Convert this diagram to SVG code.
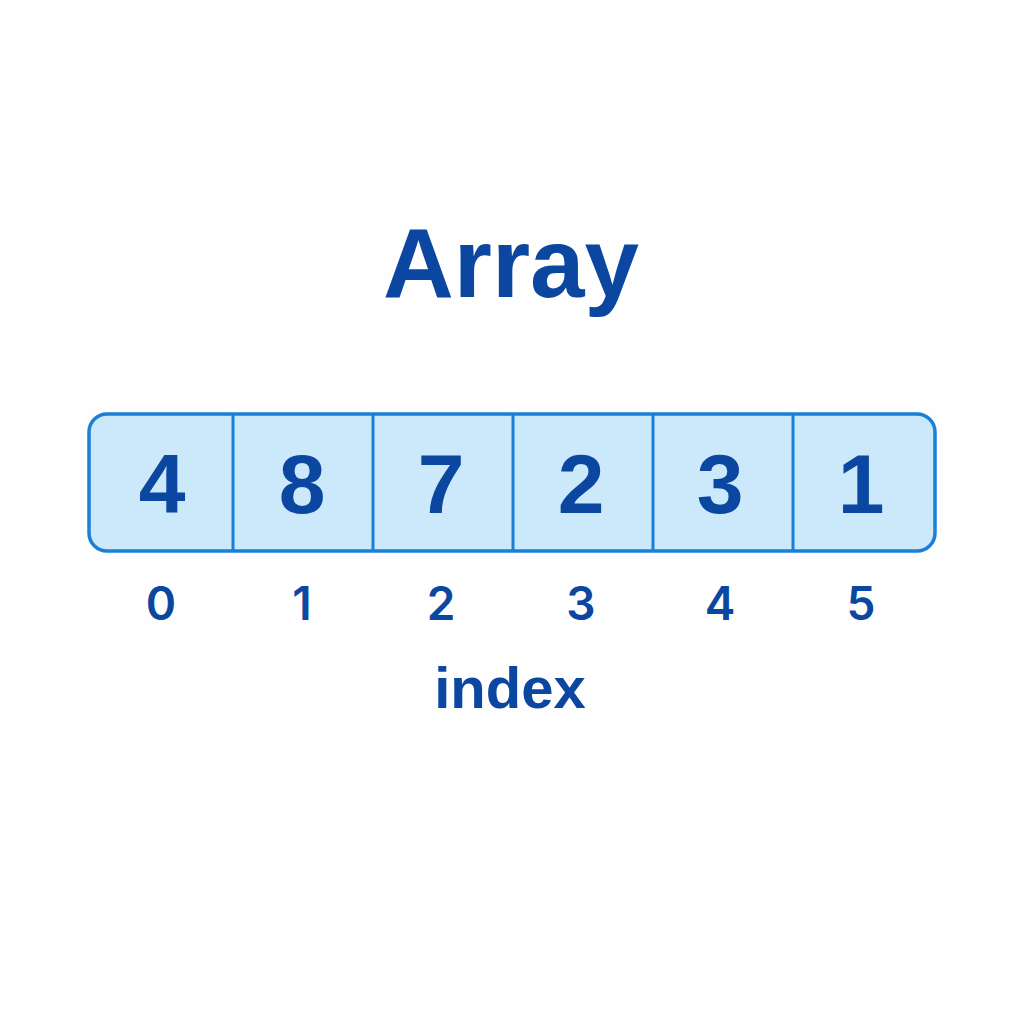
<svg xmlns="http://www.w3.org/2000/svg" width="1024" height="1024" viewBox="0 0 1024 1024">
<style>
.t{font-family:"Liberation Sans",Arial,sans-serif;fill:#0b47a1;text-anchor:middle}
.title{font-size:98px;font-weight:bold}
.val{font-size:84px;font-weight:bold}
.idx{font-size:46px;font-family:Inter,"Liberation Sans",sans-serif;font-weight:600}
.lab{font-size:58px;font-weight:bold}
.div{stroke:#1a7fd6;stroke-width:3}
</style>
<rect width="1024" height="1024" fill="#fefefe"/>
<text class="t title" x="511" y="297">Array</text>
<g id="array">
<rect x="89" y="414" width="846" height="137" rx="18" fill="#cce8fb" stroke="#1a7fd6" stroke-width="3.5"/>
</g>
<g id="dividers">
<line class="div" x1="233" y1="414" x2="233" y2="551"/>
<line class="div" x1="373" y1="414" x2="373" y2="551"/>
<line class="div" x1="513" y1="414" x2="513" y2="551"/>
<line class="div" x1="653" y1="414" x2="653" y2="551"/>
<line class="div" x1="793" y1="414" x2="793" y2="551"/>
</g>
<g id="cell0"><text class="t val" x="162" y="513">4</text><text class="t idx" x="161" y="620">0</text></g>
<g id="cell1"><text class="t val" x="302" y="513">8</text><text class="t idx" x="302" y="620">1</text></g>
<g id="cell2"><text class="t val" x="441" y="513">7</text><text class="t idx" x="441" y="620">2</text></g>
<g id="cell3"><text class="t val" x="581" y="513">2</text><text class="t idx" x="581" y="620">3</text></g>
<g id="cell4"><text class="t val" x="720" y="513">3</text><text class="t idx" x="720" y="620">4</text></g>
<g id="cell5"><text class="t val" x="861" y="513">1</text><text class="t idx" x="861" y="620">5</text></g>
<text class="t lab" x="510" y="708">index</text>
</svg>
